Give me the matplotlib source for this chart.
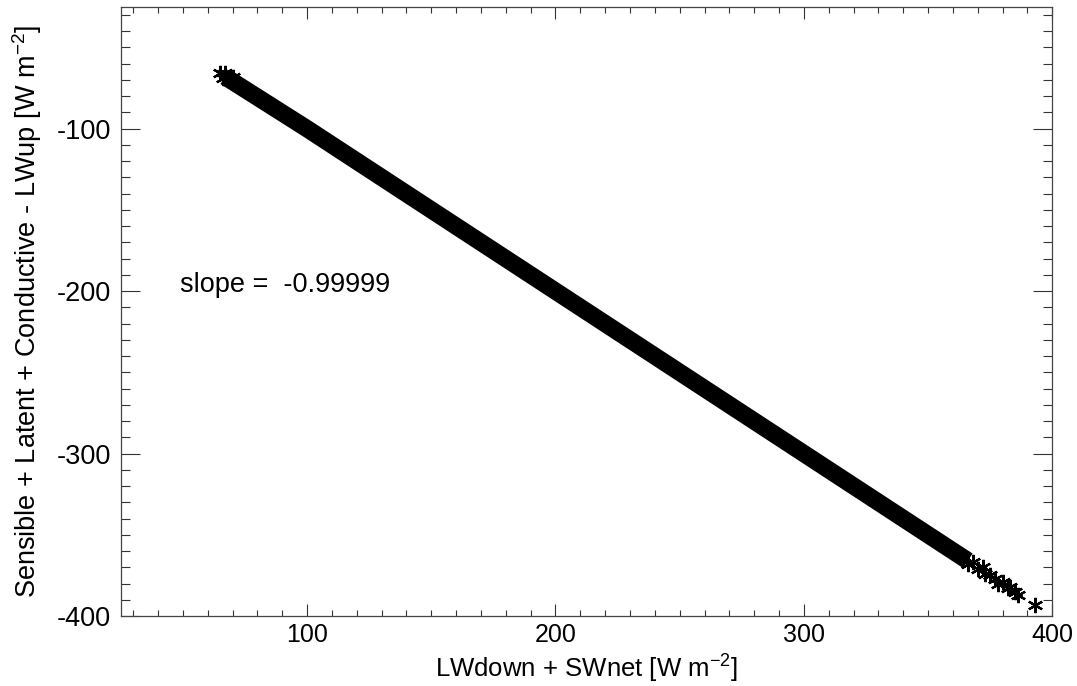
import matplotlib.pyplot as plt
import numpy as np
from matplotlib.ticker import MultipleLocator


# data
band_x = [67, 100, 150, 200, 250, 300, 340, 366]
band_y = [-68, -100, -150, -200, -250, -300, -340, -366]

# loose asterisks at both ends of the band
star_x = [65, 66, 67, 68, 70, 366, 368, 370, 372, 373, 375, 377, 378, 380, 382, 383, 385, 386, 393]
star_y = [-66, -69, -66, -70, -68, -368, -367, -371, -370, -374, -375, -377, -380, -379, -383, -382, -385, -387, -393]

slope_text = "slope =  -0.99999"
x_label = "LWdown + SWnet [W m$^{-2}$]"
y_label = "Sensible + Latent + Conductive - LWup [W m$^{-2}$]"

font = ['Liberation Sans', 'DejaVu Sans']
plt.rcParams['axes.unicode_minus'] = False
plt.rcParams['mathtext.fontset'] = 'custom'
plt.rcParams['mathtext.rm'] = 'Liberation Sans'


def make_plot():
    fig = plt.figure(figsize=(10.77, 6.86), dpi=100)
    ax = fig.add_axes([0.1121, 0.102, 0.865, 0.888])

    ax.plot(band_x, band_y, color='black', lw=12.5, solid_capstyle='butt')
    ax.plot(star_x, star_y, ls='none', marker=(6, 2, 0), ms=11,
            mec='black', mew=1.6)

    ax.set_xlim(25, 400)
    ax.set_ylim(-400, -25)
    ax.xaxis.set_major_locator(MultipleLocator(100))
    ax.xaxis.set_minor_locator(MultipleLocator(10))
    ax.yaxis.set_major_locator(MultipleLocator(100))
    ax.yaxis.set_minor_locator(MultipleLocator(10))

    ax.tick_params(axis='x', which='major', direction='in', length=8.6,
                   top=True, width=0.8, pad=5, color='#333333')
    ax.tick_params(axis='x', which='minor', direction='in', length=4.3,
                   top=True, width=0.8, color='#333333')
    ax.tick_params(axis='y', which='major', direction='in', length=13.4,
                   right=True, width=0.8, pad=7, color='#333333')
    ax.tick_params(axis='y', which='minor', direction='in', length=6.7,
                   right=True, width=0.8, color='#333333')
    for sp in ax.spines.values():
        sp.set_linewidth(0.9)
        sp.set_color('#444444')

    for lab in ax.get_xticklabels():
        lab.set_family(font)
        lab.set_fontsize(18)
    for lab in ax.get_yticklabels():
        lab.set_family(font)
        lab.set_fontsize(19.5)

    ax.set_xlabel(x_label, family=font, fontsize=18.5, labelpad=3)
    ax.set_ylabel(y_label, family=font, fontsize=19.5, labelpad=9)

    ax.text(49, -196, slope_text, family=font, fontsize=19.5, va='center')

    fig.savefig('out.png', dpi=100)


def main():
    make_plot()

if __name__ == "__main__":
    main()
